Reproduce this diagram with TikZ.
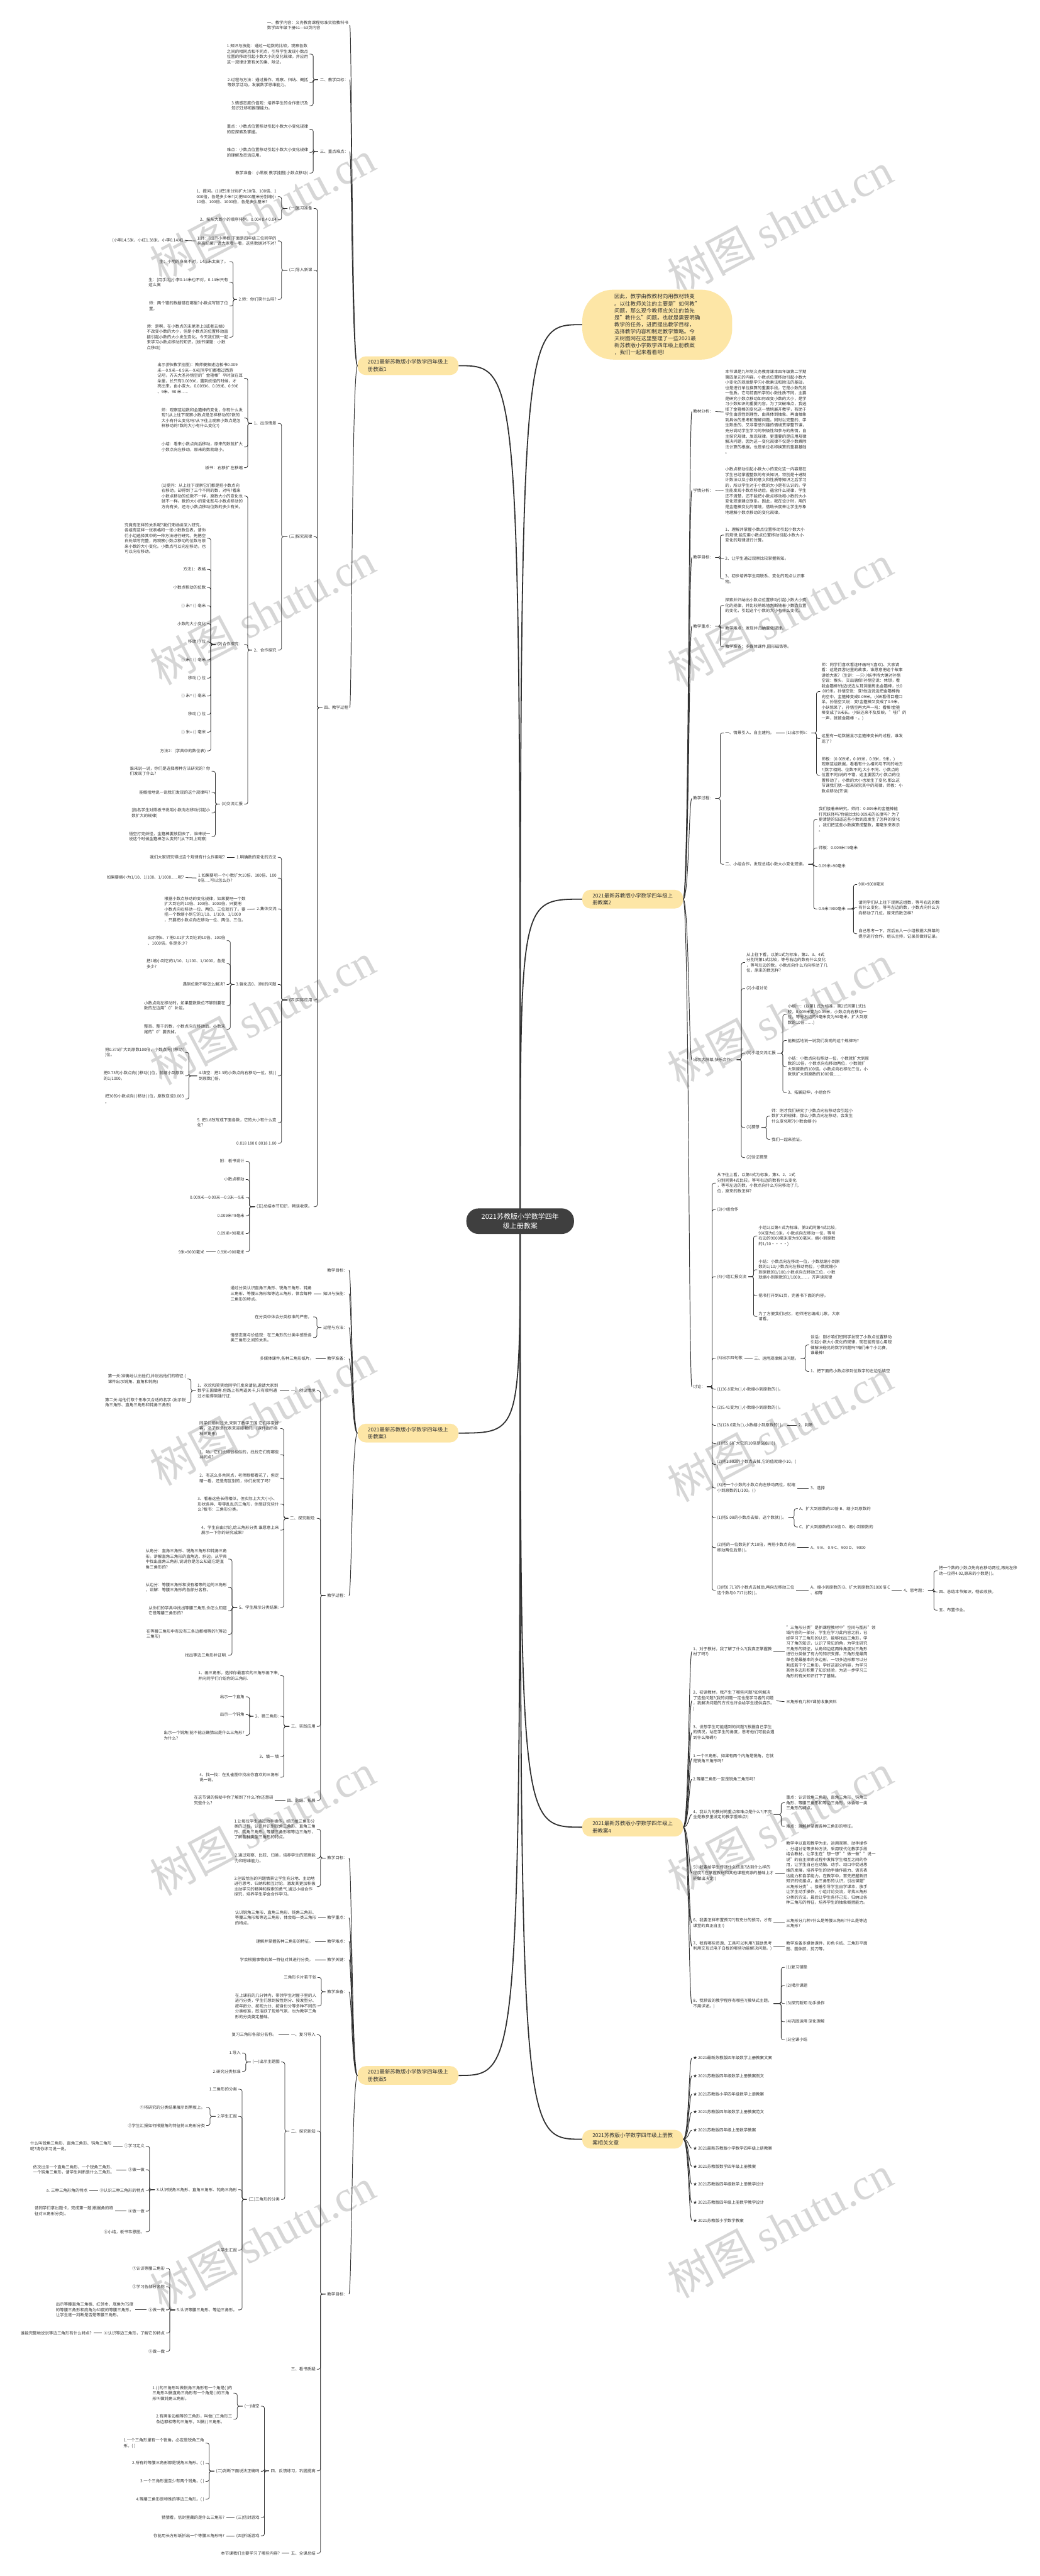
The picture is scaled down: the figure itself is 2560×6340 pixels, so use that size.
\documentclass[tikz,border=0pt]{standalone}
\usepackage{fontspec}
\setmainfont{Noto Sans CJK SC}
\newfontfamily\wmlat{Liberation Serif}
\usetikzlibrary{calc}
\definecolor{tc}{HTML}{333333}
\definecolor{lc}{HTML}{303030}
\definecolor{yel}{HTML}{FDE6A6}
\definecolor{dk}{HTML}{3F3F3F}
\pgfdeclarelayer{wmark}
\pgfdeclarelayer{bg}
\pgfsetlayers{wmark,bg,main}
\newcommand\fs{\fontsize{5pt}{6.6pt}\selectfont}
\newcommand\fy{\fontsize{6.5pt}{9pt}\selectfont}
\newcommand\fc{\fontsize{8.5pt}{11.5pt}\selectfont}
\newcommand\fin{\fontsize{6.6pt}{8.6pt}\selectfont}
\newcommand\nL[4]{\node[L] (#1) at (#2,#3) {#4};}
\newcommand\nR[4]{\node[R] (#1) at (#2,#3) {#4};}
\newcommand\LB[2]{\draw[br] ($(#1.west)+(-4,0)$) -| ($(#2.east)+(12,0)$) -- ($(#2.east)+(3,0)$);}
\newcommand\RB[2]{\draw[br] ($(#1.east)+(4,0)$) -| ($(#2.west)+(-12,0)$) -- ($(#2.west)+(-3,0)$);}
\newcommand\LBs[2]{\foreach \nn in {#2}{\LB{#1}{\nn}}}
\newcommand\RBs[2]{\foreach \nn in {#2}{\RB{#1}{\nn}}}
\newcommand\LS[2]{\draw[br] ($(#1.west)+(-4,0)$) -- ($(#2.east)+(4,0)$);}
\newcommand\RS[2]{\draw[br] ($(#1.east)+(4,0)$) -- ($(#2.west)+(-4,0)$);}
\newcommand\LC[2]{\draw[cv] (#1.west) .. controls ($(#1.west)+(-14,0)$) and ($(#1.west |- #2.east)+(-14,0)$) .. ($(#2.east)+(3,0)$);}
\newcommand\RC[2]{\draw[cv] (#1.east) .. controls ($(#1.east)+(14,0)$) and ($(#1.east |- #2.west)+(14,0)$) .. ($(#2.west)+(-3,0)$);}
\newcommand\LCs[2]{\foreach \nn in {#2}{\LC{#1}{\nn}}}
\newcommand\RCs[2]{\foreach \nn in {#2}{\RC{#1}{\nn}}}
\newcommand\CL[1]{\draw[mc] (C.center) .. controls (C.center |- #1.east) .. (#1.east);}
\newcommand\CR[1]{\draw[mc] (C.center) .. controls (C.center |- #1.west) .. (#1.west);}
\begin{document}
\begin{tikzpicture}[x=0.5pt,y=-0.5pt,
 L/.style={anchor=east, align=left, inner sep=0pt, font=\fs, text=tc},
 R/.style={anchor=west, align=left, inner sep=0pt, font=\fs, text=tc},
 br/.style={draw=lc, line width=0.6pt, rounded corners=2.5pt},
 cv/.style={draw=lc, line width=0.75pt},
 mc/.style={draw=lc, line width=1.4pt},
 Y/.style={fill=yel, rounded corners=10pt, minimum width=124pt, minimum height=23pt, align=left, font=\fy, text=tc, inner sep=0pt},
 IN/.style={fill=yel, rounded corners=38pt, minimum width=184.5pt, minimum height=86pt, align=left, font=\fin, text=tc, inner sep=0pt},
 CN/.style={fill=dk, rounded corners=15pt, minimum width=132.5pt, minimum height=31.5pt, align=center, font=\fc, text=white, inner sep=0pt},
 WM/.style={rotate=28, text=black!16, font=\fontsize{54pt}{54pt}\selectfont, inner sep=0pt}]
\begin{pgfonlayer}{wmark}
\fill[white] (0,0) rectangle (2560,6340);
\foreach \yy in {520,1510,2495,3480,4490,5510} {\node[WM] (wl\yy) at (646,\yy) {树图 {\wmlat shutu.cn}};}
\foreach \yy in {550,1515,2500,3520,4490,5480} {\node[WM] (wr\yy) at (1920,\yy) {树图 {\wmlat shutu.cn}};}
\end{pgfonlayer}
\useasboundingbox (0,0) rectangle (2560,6340);

\node[CN] (C) at (1280.5,3005.5) {2021苏教版小学数学四年\\级上册教案};

% ===== 教案1 =====
\node[Y,anchor=west] (Y1) at (880,900) {2021最新苏教版小学数学四年级上\\册教案1};
\nL{a1}{858}{62}{一、教学内容：义务教育课程标准实验教科书\\数学四年级下册61—63页内容}
\nL{a2}{858}{196}{二、教学目标：}
\nL{a3}{858}{373}{三、重点难点：}
\nL{a4}{858}{1742}{四、教学过程}
\nL{a21}{759}{133}{1.知识与技能：通过一组数的比较，观察各数\\之间的相同点和不同点，引导学生发现小数点\\位置的移动引起小数大小的变化规律，并应用\\这一规律计算有关的乘、除法。}
\nL{a22}{759}{203}{2.过程与方法：通过操作、观察、归纳、概括\\等数学活动，发展数学思维能力。}
\nL{a23}{759}{260}{3.情感态度价值观：培养学生的合作意识及\\知识迁移和推理能力。}
\nL{a31}{759}{318}{重点：小数点位置移动引起小数大小变化规律\\的应探索及掌握。}
\nL{a32}{759}{375}{难点：小数点位置移动引起小数大小变化规律\\的理解及灵活应用。}
\nL{a33}{759}{426}{教学准备：小黑板 教学挂图(小数点移动)}
\nL{b1}{769}{513}{(一)复习准备}
\nL{b2}{769}{665}{(二)导入新课}
\nL{b3}{769}{1321}{(三)探究规律}
\nL{b4}{769}{2461}{(四)实际应用}
\nL{b5}{769}{2970}{(五)总结本节知识，畅谈收获。}
\nL{b11}{681}{484}{1、提问。(1)把5米分别扩大10倍、100倍、1\\000倍，各是多少米?(2)把5000厘米分别缩小\\10倍、100倍、1000倍，各是多少厘米?}
\nL{b12}{681}{541}{2、按从大到小的顺序排列。0.004 0.4 0.04}
\nL{b21}{681}{593}{1.师：[出示小黑板]下面是四年级三位同学的\\身高纪录。请大家看一看，这些数据对不对?}
\nL{b211}{452}{592}{(小明14.5米，小红1.38米，小李0.14米)}
\nL{b22}{681}{737}{2.师：你们笑什么呀?}
\nL{b221}{562}{644}{生：小明的身高不对，14.5米太高了。}
\nL{b222}{562}{695}{生：[用手比]小李0.14米也不对，0.14米只有\\这么高}
\nL{b223}{562}{753}{师：两个错的数据错在哪里?小数点写错了位\\置。}
\nL{b224}{562}{830}{师：是啊，在小数点的末尾添上0或者去掉0\\不改变小数的大小，但是小数点的位置移动直\\接引起小数的大小发生变化。今天我们就一起\\来学习小数点移动的知识。[板书课题：小数\\点移动]}
\nL{b31}{681}{1042}{1、出示情景}
\nL{b32}{681}{1600}{2、合作探究}
\nL{b311}{598}{931}{出示(例5教学挂图)：教师便叙述边板书0.009\\米-{}-{}-0.9米—0.9米-{}-{}-9米[同学们都看过西游\\记吧，齐天大圣孙悟空的"金箍棒"平时放在耳\\朵里，长只有0.009米，遇到妖怪的时候，才\\亮出来，由小变大，0.009米、0.09米、0.9米\\、9米、90 米......}
\nL{b312}{598}{1029}{师：观察这组数和金箍棒的变化，你有什么发\\现?(从上往下观察小数点是怎样移动的?数的\\大小有什么变化吗?从下往上观察小数点是怎\\样移动的?数的大小有什么变化?)}
\nL{b313}{598}{1100}{小结：看来小数点向后移动，原来的数就扩大\\小数点向左移动，原来的数就缩小。}
\nL{b314}{598}{1151}{板书：右移扩 左移缩}
\nL{b321}{598}{1221}{(1)提问：从上往下观察它们都是把小数点向\\右移动，却得到了三个不同的数，对吗?看来\\小数点移动的位数不一样，原数大小的变化也\\就不一样。数的大小的变化既与小数点移动的\\方向有关，还与小数点移动位数的多少有关。}
\nL{b322}{598}{1586}{(2)合作探究：}
\nL{b323}{598}{1979}{(3)交流汇报}
\nL{c1}{507}{1325}{究竟有怎样的关系呢?我们来继续深入研究。\\各组有这样一张表格和一张小数数位表，请你\\们小组选择其中的一种方法进行研究。先把空\\白处填写完整，再观察小数点移动的位数与原\\来小数的大小变化。小数点可以向左移动，也\\可以向右移动。}
\nL{c2}{507}{1401}{方法1：表格}
\nL{c3}{507}{1446}{小数点移动的位数}
\nL{c4}{507}{1491}{( ) 米= ( ) 毫米}
\nL{c5}{507}{1535}{小数的大小变化}
\nL{c6}{507}{1580}{移动 ( ) 位}
\nL{c7}{507}{1624}{( ) 米= ( ) 毫米}
\nL{c8}{507}{1669}{移动 ( ) 位}
\nL{c9}{507}{1713}{( ) 米= ( ) 毫米}
\nL{c10}{507}{1758}{移动 ( ) 位}
\nL{c11}{507}{1802}{( ) 米= ( ) 毫米}
\nL{c12}{507}{1848}{方法2：(学具中的数位表)}
\nL{d1}{518}{1898}{谁来说一说，你们是选择哪种方法研究的? 你\\们发现了什么?}
\nL{d2}{518}{1950}{能概括地说一说我们发现的这个规律吗?}
\nL{d3}{518}{2001}{[指名学生对照板书说明小数向右移动引起小\\数扩大的规律]}
\nL{d4}{518}{2059}{悟空打完妖怪，金箍棒要放回去了，谁来说一\\说这个时候金箍棒怎么变的?(从下到上观察)}
\nL{b41}{681}{2110}{1.明确数的变化的方法}
\nL{b411}{554}{2110}{我们大家研究得出这个规律有什么作用呢?}
\nL{b42}{681}{2161}{1.如果要吧一个小数扩大10倍、100倍、100\\0倍.....可以怎么办?}
\nL{b421}{453}{2160}{如果要缩小为1/10、1/100、1/1000......呢?}
\nL{b43}{681}{2237}{2.集体交流}
\nL{b431}{605}{2238}{根据小数点移动的变化规律，如果要吧一个数\\扩大到它的10倍、100倍、1000倍，只要把\\小数点向右移动一位、两位、三位就行了。要\\把一个数缩小到它的1/10、1/100、1/1000\\，只要把小数点向左移动一位、两位、三位。}
\nL{b44}{681}{2423}{3.强化去0、添0的问题}
\nL{b441}{555}{2315}{出示例6、7 把0.01扩大到它的10倍、100倍\\、1000倍，各是多少?}
\nL{b442}{555}{2372}{把1缩小到它的1/10、1/100、1/1000，各是\\多少?}
\nL{b443}{555}{2423}{遇到位数不够怎么解决?}
\nL{b444}{555}{2475}{小数点向左移动时，如果整数数位不够则要在\\数的左边用"0"补足。}
\nL{b445}{555}{2533}{整百、整千的数，小数点向左移动后，小数末\\尾的"0"要去掉。}
\nL{b45}{681}{2648}{4.填空：把2.3的小数点向右移动一位，就( )\\到原数( )倍。}
\nL{b451}{453}{2590}{把0.375扩大到原数100倍，小数点向( )移动(\\)位。}
\nL{b452}{453}{2648}{把0.73的小数点向( )移动( )位，就缩小到原数\\的1/1000。}
\nL{b453}{453}{2705}{把30的小数点向( )移动( )位，原数变成0.003\\。}
\nL{b46}{681}{2763}{5. 把1.8改写成下面各数，它的大小有什么变\\化?}
\nL{b47}{681}{2814}{0.018 180 0.0018 1.80}
\nL{b51}{602}{2858}{附：板书设计}
\nL{b52}{602}{2903}{小数点移动}
\nL{b53}{602}{2947}{0.009米一0.09米一0.9米一9米}
\nL{b54}{602}{2992}{0.009米=9毫米}
\nL{b55}{602}{3036}{0.09米=90毫米}
\nL{b56}{602}{3081}{0.9米=900毫米}
\nL{b561}{503}{3081}{9米=9000毫米}

% ===== 教案3 =====
\node[Y,anchor=west] (Y3) at (880,3527) {2021最新苏教版小学数学四年级上\\册教案3};
\nL{e1}{856}{3126}{教学目标：}
\nL{e2}{856}{3184}{知识与技能：}
\nL{e3}{856}{3267}{过程与方法：}
\nL{e4}{856}{3344}{教学准备：}
\nL{e5}{856}{3927}{教学过程：}
\nL{e21}{768}{3184}{通过分类认识直角三角形、锐角三角形、钝角\\三角形、等腰三角形和等边三角形，体会每种\\三角形的特点。}
\nL{e31}{768}{3241}{在分类中体会分类标准的严密。}
\nL{e32}{768}{3292}{情感态度与价值观：在三角形的分类中感受各\\类三角形之间的关系。}
\nL{e41}{773}{3344}{多媒体课件,各种三角形纸片。}
\nL{f1}{777}{3423}{一、创设情境}
\nL{f2}{777}{3737}{二、探究新知:}
\nL{f3}{777}{4249}{三、实践应用}
\nL{f4}{777}{4431}{四、总结、拓展}
\nL{f11}{685}{3423}{1、欢欢和笑笑给同学们发来请贴,邀请大家到\\数学王国做客.但路上有两道关卡,只有顺利通\\过才能得到通行证.}
\nL{f111}{458}{3394}{第一关:准确地认出他们,并说出他们的特征.(\\课件出示锐角、直角和钝角)}
\nL{f112}{458}{3452}{第二关:给他们取个形象又合适的名字.(出示锐\\角三角形、直角三角形和钝角三角形)}
\nL{f21}{687}{3516}{同学们顺利过关,来到了数学王国.它们非常好\\客，派了很多代表来迎接我们。(课件出示各\\种三角形)}
\nL{f22}{687}{3580}{1、哟，它们长得很相似的，找找它们有哪些\\共同点?}
\nL{f23}{687}{3638}{2、有这么多共同点，老师眼都看花了，但定\\睛一看，还是有区别的，你们发现了吗?}
\nL{f24}{687}{3702}{3、看着这些长得相似，但实际上大大小小、\\形状各异、零零乱乱的三角形，你想研究些什\\么?板书：三角形分类。}
\nL{f25}{687}{3766}{4、学生自由讨论,给三角形分类.谁愿意上来\\展示一下你的研究成果?}
\nL{f26}{687}{3956}{5、学生展示分类结果:}
\nL{f261}{559}{3837}{从角分：直角三角形、锐角三角形和钝角三角\\形。讲解直角三角形的直角边、斜边。从学具\\中找出直角三角形,说说你是怎么知道它是直\\角三角形的?}
\nL{f262}{559}{3907}{从边分：等腰三角形和没有相等的边的三角形\\，讲解：等腰三角形的各部分名称。}
\nL{f263}{559}{3964}{从你们的学具中找出等腰三角形,你怎么知道\\它是等腰三角形的?}
\nL{f264}{559}{4022}{在等腰三角形中有没有三条边都相等的?(等边\\三角形)}
\nL{f265}{559}{4074}{找出等边三角形并证明.}
\nL{f31}{687}{4124}{1、画三角形。选择你最喜欢的三角形画下来,\\并向同学们介绍你的三角形.}
\nL{f32}{687}{4224}{2、猜三角形:}
\nL{f33}{687}{4323}{3、填一 填}
\nL{f34}{687}{4374}{4、找一找：在孔雀图中找出你喜欢的三角形\\说一说。}
\nL{f321}{602}{4176}{出示一个直角}
\nL{f322}{602}{4220}{出示一个钝角}
\nL{f323}{602}{4271}{出示一个锐角(能不能正确猜出是什么三角形?\\为什么?}
\nL{f41}{673}{4431}{在这节课的探秘中你了解到了什么?你还想研\\究些什么?}

% ===== 教案5 =====
\node[Y,anchor=west] (Y5) at (880,5108) {2021最新苏教版小学数学四年级上\\册教案5};
\nL{g1}{856}{4573}{教学目标：}
\nL{g2}{856}{4720}{教学重点：}
\nL{g3}{856}{4778}{教学难点：}
\nL{g4}{856}{4823}{教学关键：}
\nL{g5}{856}{4902}{教学准备：}
\nL{g6}{856}{5646}{教学目标：}
\nL{g11}{777}{4502}{1.让每位学生通过动手操作，经历给三角形分\\类的过程，认识并识别锐角三角形、直角三角\\形、钝角三角形、等腰三角形和等边三角形，\\了解各种类型三角形的特点。}
\nL{g12}{777}{4573}{2.通过观察、比较、归类，培养学生的观察能\\力和思维能力。}
\nL{g13}{777}{4643}{3.创设恰当的问题情景让学生充分地、主动地\\进行思考、归纳和相互讨论，激发其更加积极\\主动学习的精神和探索的勇气.通过小组合作\\探究，培养学生学会合作学习。}
\nL{g21}{779}{4720}{认识锐角三角形、直角三角形、钝角三角形、\\等腰三角形和等边三角形，体会每一类三角形\\的特点。}
\nL{g31}{771}{4778}{理解并掌握各种三角形的特征。}
\nL{g41}{771}{4823}{学会根据事物的某一特征对其进行分类。}
\nL{g51}{779}{4867}{三角形卡片若干张}
\nL{g52}{779}{4937}{在上课前的几分钟内，带领学生对屋子里的人\\进行分类，学生们想到按性别分、按发型分、\\按年龄分、按视力分、按身份分等多种不同的\\分类标准，既活跃了现场气氛，也为教学三角\\形的分类奠定基础。}
\nL{h1}{777}{5008}{一、复习导入}
\nL{h11}{681}{5008}{复习三角形各部分名称。}
\nL{h2}{777}{5245}{二、探究新知}
\nL{h3}{777}{5831}{三、看书质疑}
\nL{h4}{777}{6081}{四、反馈练习，巩固提高}
\nL{h5}{777}{6284}{五、全课总结}
\nL{h51}{689}{6284}{本节课我们主要学习了哪些内容?}
\nL{h21}{689}{5075}{(一)出示主题图}
\nL{h22}{689}{5413}{(二)三角形的分类}
\nL{h211}{593}{5053}{1.导入}
\nL{h212}{593}{5098}{2.研究分类标准}
\nL{h221}{584}{5142}{1.三角形的分类}
\nL{h222}{584}{5209}{2.学生汇报}
\nL{h223}{584}{5389}{3.认识锐角三角形、直角三角形、钝角三角形}
\nL{h224}{584}{5538}{4.学生汇报}
\nL{h225}{584}{5685}{5.认识等腰三角形、等边三角形。}
\nL{h2221}{505}{5187}{①将研究的分类结果展示到黑板上。}
\nL{h2222}{505}{5231}{②学生汇报如何根据角的特征将三角形分类}
\nL{h2231}{356}{5282}{①学习定义}
\nL{h2232}{356}{5340}{②做一做}
\nL{h2233}{356}{5391}{③认识三种三角形的特点}
\nL{h2234}{356}{5442}{④做一做}
\nL{h2235}{356}{5493}{⑤小结，板书韦恩图。}
\nL{i1}{275}{5282}{什么叫锐角三角形、直角三角形、钝角三角形\\呢?请你练习说一说。}
\nL{i2}{282}{5340}{依次出示一个直角三角形、一个锐角三角形、\\一个钝角三角形，请学生判断是什么三角形。}
\nL{i3}{216}{5391}{a. 三种三角形角的特点}
\nL{i4}{279}{5442}{请同学们拿出题卡，完成第一题(根据角的特\\征对三角形分类)。}
\nL{h2251}{406}{5583}{①认识等腰三角形}
\nL{h2252}{406}{5628}{②学习各部分名称}
\nL{h2253}{406}{5685}{③做一做}
\nL{h2254}{406}{5742}{④认识等边三角形，了解它的特点}
\nL{h2255}{406}{5787}{⑤做一做}
\nL{i5}{329}{5685}{出示等腰直角三角板、红领巾、底角为75度\\的等腰三角形和底角为60度的等腰三角形，\\让学生逐一判断是否是等腰三角形。}
\nL{i6}{226}{5742}{谁能完整地说说等边三角形有什么特点?}
\nL{h41}{639}{5922}{(一)填空}
\nL{h42}{639}{6082}{(二)判断下面说法正确吗}
\nL{h43}{639}{6196}{(三)信封游戏}
\nL{h44}{639}{6241}{(四)折纸游戏}
\nL{h411}{572}{5890}{1.( )的三角形叫做锐角三角形有一个角是( )的\\三角形叫做直角三角形有一个角是( )的三角\\形叫做钝角三角形。}
\nL{h412}{572}{5954}{2.有两条边相等的三角形，叫做( )三角形三\\条边都相等的三角形，叫做( )三角形。}
\nL{h421}{503}{6013}{1.一个三角形里有一个锐角，必定是锐角三角\\形。( )}
\nL{h422}{503}{6062}{2.所有的等腰三角形都是锐角三角形。( )}
\nL{h423}{503}{6107}{3.一个三角形里至少有两个锐角。( )}
\nL{h424}{503}{6151}{4.等腰三角形是特殊的等边三角形。( )}
\nL{h431}{553}{6196}{猜猜看，信封里藏的是什么三角形?}
\nL{h441}{553}{6241}{你能用长方形纸折出一个等腰三角形吗?}

% ===== intro =====
\node[IN,anchor=west] (I) at (1433,799) {因此，教学由教教材向用教材转变\\。以往教师关注的主要是"如何教"\\问题，那么现今教师应关注的首先\\是"教什么"问题。也就是需要明确\\教学的任务，进而提出教学目标，\\选择教学内容和制定教学策略。今\\天树图网在这里整理了一些2021最\\新苏教版小学数学四年级上册教案\\，我们一起来看看吧!};

% ===== 教案2 =====
\node[Y,anchor=west] (Y2) at (1433,2213) {2021最新苏教版小学数学四年级上\\册教案2};
\nR{k1}{1706}{1013}{教材分析：}
\nR{k2}{1706}{1207}{学情分析：}
\nR{k3}{1706}{1372}{教学目标：}
\nR{k4}{1706}{1541}{教学重点：}
\nR{k5}{1706}{1965}{教学过程：}
\nR{k6}{1706}{2608}{出示大屏幕,快乐合作：}
\nR{k7}{1706}{3413}{讨论：}
\nR{k11}{1785}{1014}{本节课是九年制义务教育课本四年级第二学期\\第四单元的内容。小数点位置移动引起小数大\\小变化的规律是学习小数乘法和除法的基础，\\也是进行单位换算的重要手段，它是小数的另\\一性质。它与前面所学的小数性质不同，主要\\是研究小数点移动如何改变小数的大小，是学\\习小数知识的重要内容。为了突破难点，我选\\择了金箍棒的变化这一情境展开教学，有助于\\学生由感性到理性、由具体到抽象、再由抽象\\到具体的思考和理解问题。同时以完整的、学\\生熟悉的、又非常感兴趣的情境贯穿整节课，\\充分调动学生学习的积极性和参与的热情，自\\主探究规律、发现规律，更重要的是应用规律\\解决问题，因为这一变化规律不仅是小数乘除\\法计算的根据，也是单位名称换算的重要基础\\。}
\nR{k21}{1785}{1208}{小数点移动引起小数大小的变化这一内容是在\\学生已经掌握整数的有关知识，特别是十进制\\计数法以及小数的意义和性质等知识之后学习\\的，所以学生对于小数的大小是有认识的。学\\生能发现小数点移动后，蕴含什么规律，学生\\还不清楚，还不能把小数点移动和小数的大小\\变化规律建立联系。因此，我在设计时，用的\\是金箍棒变化的情境，借助长度来让学生形象\\地理解小数点移动的变化规律。}
\nR{k31}{1785}{1317}{1、理解并掌握小数点位置移动引起小数大小\\的规律;能应用小数点位置移动引起小数大小\\变化的规律进行计算。}
\nR{k32}{1785}{1375}{2、让学生通过观察比较掌握新知。}
\nR{k33}{1785}{1425}{3、初步培养学生用联系、变化的观点认识事\\物。}
\nR{k41}{1785}{1490}{探索并归纳出小数点位置移动引起小数大小变\\化的规律，并比较熟练地判断随着小数点位置\\的变化，引起这个小数的大小有什么变化。}
\nR{k42}{1785}{1546}{教学难点：发现并归纳变化规律。}
\nR{k43}{1785}{1592}{教学准备：多媒体课件,圆形磁铁等。}
\nR{k51}{1785}{1804}{一、情景引入、自主建构。}
\nR{k511}{1935}{1804}{(1)出示例5：}
\nR{k5111}{2022}{1702}{师：同学们喜欢看连环画吗?(喜欢)、大家请\\看：这是西游记里的故事，谁愿意把这个故事\\讲给大家?（生讲：一只小妖手持大锤对孙悟\\空说：猴头，交出唐僧!孙悟空说：休想，看\\我金箍棒!他边说边从耳洞里掏出金箍棒，长0\\.009米。孙悟空说：变!他边说边把金箍棒抛\\向空中，金箍棒变成0.09米。小妖看得目瞪口\\呆。孙悟空又说：变!金箍棒又变成了0.9米，\\小妖惊呆了。孙悟空再大声一吼：看棒!金箍\\棒变成了9米长。小妖还来不及反映，"哇!"的\\一声，就被金箍棒·。)}
\nR{k5112}{2022}{1818}{这里有一组数据显示金箍棒变长的过程，谁发\\现了?}
\nR{k5113}{2022}{1908}{师板：(0.009米，0.09米，0.9米，9米，)\\观察这组数据，看看有什么相同与不同的地方\\?(数字相同、位数不同,大小不同、小数点的\\位置不同)说的不错，这主要因为小数点的位\\置移动了，小数的大小也发生了变化.那么这\\节课我们就一起来探究其中的规律，师板：小\\数点移动(齐读)}
\nR{k52}{1785}{2127}{二、小组合作，发现总结小数大小变化规律。}
\nR{k521}{2015}{2017}{我们接着来研究。师问：0.009米的金箍棒能\\打死妖怪吗?你能比划0.009米的长度吗？为了\\更清楚的知道这些小数到底发生了怎样的变化\\，我们把这些小数换算成整数，用毫米来表示\\。}
\nR{k522}{2015}{2087}{师板：0.009米=9毫米}
\nR{k523}{2015}{2132}{0.09米=90毫米}
\nR{k524}{2015}{2237}{0.9米=900毫米}
\nR{k5241}{2113}{2177}{9米=9000毫米}
\nR{k5242}{2113}{2234}{请同学们从上往下观察这组数，等号右边的数\\有什么变化，等号左边的数，小数点向什么方\\向移动了几位，原来的数怎样?}
\nR{k5243}{2113}{2298}{自己思考一下，然后五人一小组根据大屏幕的\\提示进行合作，组长主持，记录员做好记录。}
\nR{k61}{1837}{2369}{从上往下看，以第1式为标准，第2、3、4式\\分别同第1式比较，等号右边的数有什么变化\\，等号左边的数，小数点向什么方向移动了几\\位，原来的数怎样?}
\nR{k62}{1837}{2433}{(2)小组讨论}
\nR{k63}{1837}{2592}{(3)小组交流汇报}
\nR{k64}{1837}{2775}{(1)猜想}
\nR{k65}{1837}{2849}{(2)验证猜想}
\nR{k631}{1939}{2497}{小组一：(以第1 式为标准，第2式同第1式比\\较，0.009米变为0.09米，小数点向右移动一\\位，等号右边的9毫米变为90毫米，扩大到原\\数的10倍……)}
\nR{k632}{1939}{2561}{能概括地说一说我们发现的这个规律吗?}
\nR{k633}{1939}{2625}{小结：小数点向右移动一位，小数就扩大到原\\数的10倍，小数点向右移动两位，小数就扩\\大到原数的100倍，小数点向右移动三位，小\\数就扩大到原数的1000倍;......}
\nR{k634}{1939}{2689}{3、拓展延伸，小组合作}
\nR{k641}{1899}{2747}{师：刚才我们研究了小数点向右移动会引起小\\数扩大的规律，那么小数点向左移动，会发生\\什么变化呢?(小数会缩小)}
\nR{k642}{1899}{2804}{我们一起来验证。}
\nR{k71}{1765}{2912}{从下往上看，以第4式为标准，第3、2、1式\\分别同第4式比较，等号右边的数有什么变化\\，等号左边的数，小数点向什么方向移动了几\\位，原来的数怎样?}
\nR{k72}{1765}{2977}{(3)小组合作}
\nR{k73}{1765}{3142}{(4)小组汇报交流}
\nR{k74}{1765}{3343}{(5)出示四句歌}
\nR{k75}{1765}{3419}{(1)36.8变为( ),小数缩小到原数的( )。}
\nR{k76}{1765}{3464}{(2)5.41变为( ),小数缩小到原数的( )。}
\nR{k77}{1765}{3508}{(3)128.6变为( ),小数缩小到原数的( )。}
\nR{k78}{1765}{3553}{(1)把5.6扩大它的10倍是560。( )}
\nR{k79}{1765}{3604}{(2)把1.502的小数点去掉,它的值就缩小10。(\\)}
\nR{k710}{1765}{3662}{(3)把一个小数的小数点向左移动两位，就缩\\小到原数的1/100。( )}
\nR{k711}{1765}{3735}{(1)把5.08的小数点去掉，这个数就( )。}
\nR{k712}{1765}{3809}{(2)把的一位数先扩大10倍，再把小数点向右\\移动两位后是( )。}
\nR{k713}{1765}{3914}{(3)把0.717的小数点去掉后,再向左移动三位\\这个数与0.717比较( )。}
\nR{k731}{1867}{3042}{小组1(以第4 式为标准，第3式同第4式比较，\\9米变为0.9米，小数点向左移动一位，等号\\右边的9000毫米变为900毫米，缩小到原数\\的1/10····)}
\nR{k732}{1867}{3125}{小结：小数点向左移动一位，小数就缩小到原\\数的1/10;小数点向左移动两位，小数就缩小\\到原数的1/100;小数点向左移动三位，小数\\就缩小到原数的1/1000;......，齐声读规律}
\nR{k733}{1867}{3189}{把书打开到61页，完善书下面的内容。}
\nR{k734}{1867}{3240}{为了方便我们记忆，老师把它编成儿歌，大家\\请看。}
\nR{k741}{1856}{3343}{三、运用规律解决问题。}
\nR{k7411}{1995}{3310}{谈话：刚才咱们班同学发现了小数点位置移动\\引起小数大小变化的规律，现在能有信心用规\\律解决碰见的数学问题吗?咱们来个小比赛，\\谁最棒!}
\nR{k7412}{1995}{3375}{1、把下面的小数点移到位数字的左边后填空}
\nR{k771}{1965}{3508}{2、判断}
\nR{k7101}{1995}{3662}{3、选择}
\nR{k7111}{1967}{3713}{A、扩大到原数的10倍 B、缩小到原数的}
\nR{k7112}{1967}{3758}{C、扩大到原数的100倍 D、缩小到原数的}
\nR{k7121}{1995}{3809}{A、9 B、 0.9 C、900 D、 9000}
\nR{k7131}{1995}{3914}{A、缩小到原数的 B、扩大到原数的1000倍 C\\、相等}
\nR{k7132}{2224}{3914}{4、思考题：}
\nR{k71321}{2311}{3866}{把一个数的小数点先向右移动两位,再向左移\\动一位得4.02,原来的小数是( )。}
\nR{k71322}{2311}{3918}{四、总结本节知识，畅谈收获。}
\nR{k71323}{2311}{3963}{五、布置作业。}

% ===== 教案4 =====
\node[Y,anchor=west] (Y4) at (1433,4497) {2021最新苏教版小学数学四年级上\\册教案4};
\nR{m1}{1706}{4065}{1、对于教材，我了解了什么?(我真正掌握教\\材了吗?)}
\nR{m2}{1706}{4186}{2、初读教材，我产生了哪些问题?如何解决\\了这些问题?(我的问题一定也是学习者的问题\\，我解决问题的方式也许会给学生提供启示。\\)}
\nR{m3}{1706}{4264}{3、设想学生可能遇到的问题?(根据自己学生\\的情况，站在学生的角度，思考他们可能会遇\\到什么障碍?)}
\nR{m4}{1706}{4328}{1.一个三角形，如果有两个内角是锐角，它就\\是锐角三角形吗?}
\nR{m5}{1706}{4379}{2.等腰三角形一定是锐角三角形吗?}
\nR{m6}{1706}{4466}{4、我认为的教材的重点和难点是什么?(不完\\全是教参里设定的教学重难点!)}
\nR{m7}{1706}{4610}{5、我要给学生传递什么信息?达到什么样的\\程度?(在掌握教材和其他课程资源的基础上才\\能做出决定!)}
\nR{m8}{1706}{4733}{6、我要怎样布置预习?(有充分的预习，才有\\课堂的真正自主!)}
\nR{m9}{1706}{4790}{7、我有哪些资源、工具可以利用?(鼓励思考\\利用交互式电子白板的哪些功能解决问题。)}
\nR{m10}{1706}{4931}{8、我预设的教学程序有哪些?(模块式主题，\\不用详述。)}
\nR{m11}{1935}{4065}{"三角形分类"是新课程教材中"空间与图形"领\\域内容的一部分，学生在学习此内容之前，已\\经学习了三角形的认识，能够找出三角形，学\\习了角的知识，认识了常见的角，为学生研究\\三角形的特征，从角和边这两种角度对三角形\\进行分类做了有力的知识支撑。三角形是最简\\单也是最基本的多边形，一切多边形都可以分\\割成若干个三角形，学好这部分内容，为学习\\其他多边形积累了知识经验，为进一步学习三\\角形的有关知识打下了基础。}
\nR{m21}{1935}{4188}{三角形有几种?课前收集资料}
\nR{m61}{1935}{4437}{重点：认识锐角三角形、直角三角形、钝角三\\角形、等腰三角形和等边三角形，体会每一类\\三角形的特点。}
\nR{m62}{1935}{4495}{难点：理解并掌握各种三角形的特征。}
\nR{m71}{1935}{4610}{教学中以直观教学为主，运用观察、动手操作\\、分组讨论等多种方法，采用现代化教学手段\\结合教材，让学生在"想一想""做一做""说一\\说"的自主探索过程中发挥学生相互之间的作\\用，让学生自己在动脑、动手、动口中促进思\\维的发展，培养学生的动手操作能力、语言表\\达能力和自学能力。在教学中，首先把握新旧\\知识的衔接点，由三角形的认识，引出课题"\\三角形分类"。接着引导学生自学课本，放手\\让学生动手操作，小组讨论交流，寻找三角形\\分类的方法。最后让学生各抒己见，归纳出各\\种三角形的特征，培养学生的抽象概括能力。}
\nR{m81}{1935}{4733}{三角形分几种?什么是等腰三角形?什么是等边\\三角形?}
\nR{m91}{1935}{4790}{教学准备多媒体课件、彩色卡纸、三角形平面\\图、圆体胶、剪刀等。}
\nR{m101}{1935}{4842}{(1)复习铺垫}
\nR{m102}{1935}{4887}{(2)揭示课题}
\nR{m103}{1935}{4931}{(3)探究新知 动手操作}
\nR{m104}{1935}{4976}{(4)巩固运用 深化理解}
\nR{m105}{1935}{5020}{(5)全课小结}

% ===== related list =====
\node[Y,anchor=west] (Y6) at (1433,5265) {2021苏教版小学数学四年级上册教\\案相关文章};
\nR{q1}{1706}{5065}{★ 2021最新苏教版四年级数学上册教案文案}
\nR{q2}{1706}{5109}{★ 2021苏教版四年级数学上册教案例文}
\nR{q3}{1706}{5154}{★ 2021苏教版小学四年级数学上册教案}
\nR{q4}{1706}{5198}{★ 2021苏教版四年级数学上册教案范文}
\nR{q5}{1706}{5243}{★ 2021苏教版四年级上册数学教案}
\nR{q6}{1706}{5287}{★ 2021最新苏教版小学数学四年级上册教案}
\nR{q7}{1706}{5332}{★ 2021苏教版数学四年级上册教案}
\nR{q8}{1706}{5376}{★ 2021苏教版四年级数学上册教学设计}
\nR{q9}{1706}{5421}{★ 2021苏教版四年级上册数学教学设计}
\nR{q10}{1706}{5465}{★ 2021苏教版小学数学教案}

\begin{pgfonlayer}{bg}
\CL{Y1}\CL{Y3}\CL{Y5}\CR{I}\CR{Y2}\CR{Y4}\CR{Y6}
\LCs{Y1}{a1,a2,a3,a4}
\LBs{a2}{a21,a22,a23}
\LBs{a3}{a31,a32,a33}
\LBs{a4}{b1,b2,b3,b4,b5}
\LBs{b1}{b11,b12}
\LBs{b2}{b21,b22}
\LS{b21}{b211}
\LBs{b22}{b221,b222,b223,b224}
\LBs{b3}{b31,b32}
\LBs{b31}{b311,b312,b313,b314}
\LBs{b32}{b321,b322,b323}
\LBs{b322}{c1,c2,c3,c4,c5,c6,c7,c8,c9,c10,c11,c12}
\LBs{b323}{d1,d2,d3,d4}
\LBs{b4}{b41,b42,b43,b44,b45,b46,b47}
\LS{b41}{b411}\LS{b42}{b421}\LS{b43}{b431}
\LBs{b44}{b441,b442,b443,b444,b445}
\LBs{b45}{b451,b452,b453}
\LBs{b5}{b51,b52,b53,b54,b55,b56}
\LS{b56}{b561}
\LCs{Y3}{e1,e2,e3,e4,e5}
\LS{e2}{e21}
\LBs{e3}{e31,e32}
\LS{e4}{e41}
\LBs{e5}{f1,f2,f3,f4}
\LS{f1}{f11}
\LBs{f11}{f111,f112}
\LBs{f2}{f21,f22,f23,f24,f25,f26}
\LBs{f26}{f261,f262,f263,f264,f265}
\LBs{f3}{f31,f32,f33,f34}
\LBs{f32}{f321,f322,f323}
\LS{f4}{f41}
\LCs{Y5}{g1,g2,g3,g4,g5,g6}
\LBs{g1}{g11,g12,g13}
\LS{g2}{g21}\LS{g3}{g31}\LS{g4}{g41}
\LBs{g5}{g51,g52}
\LBs{g6}{h1,h2,h3,h4,h5}
\LS{h1}{h11}
\LBs{h2}{h21,h22}
\LBs{h21}{h211,h212}
\LBs{h22}{h221,h222,h223,h224,h225}
\LBs{h222}{h2221,h2222}
\LBs{h223}{h2231,h2232,h2233,h2234,h2235}
\LS{h2231}{i1}\LS{h2232}{i2}\LS{h2233}{i3}\LS{h2234}{i4}
\LBs{h225}{h2251,h2252,h2253,h2254,h2255}
\LS{h2253}{i5}\LS{h2254}{i6}
\LBs{h4}{h41,h42,h43,h44}
\LBs{h41}{h411,h412}
\LBs{h42}{h421,h422,h423,h424}
\LS{h43}{h431}\LS{h44}{h441}
\LS{h5}{h51}
\RCs{Y2}{k1,k2,k3,k4,k5,k6,k7}
\RS{k1}{k11}\RS{k2}{k21}
\RBs{k3}{k31,k32,k33}
\RBs{k4}{k41,k42,k43}
\RBs{k5}{k51,k52}
\RS{k51}{k511}
\RBs{k511}{k5111,k5112,k5113}
\RBs{k52}{k521,k522,k523,k524}
\RBs{k524}{k5241,k5242,k5243}
\RBs{k6}{k61,k62,k63,k64,k65}
\RBs{k63}{k631,k632,k633,k634}
\RBs{k64}{k641,k642}
\RBs{k7}{k71,k72,k73,k74,k75,k76,k77,k78,k79,k710,k711,k712,k713}
\RBs{k73}{k731,k732,k733,k734}
\RS{k74}{k741}
\RBs{k741}{k7411,k7412}
\RS{k77}{k771}
\RS{k710}{k7101}
\RBs{k711}{k7111,k7112}
\RS{k712}{k7121}
\RS{k713}{k7131}
\RS{k7131}{k7132}
\RBs{k7132}{k71321,k71322,k71323}
\RCs{Y4}{m1,m2,m3,m4,m5,m6,m7,m8,m9,m10}
\RS{m1}{m11}\RS{m2}{m21}
\RBs{m6}{m61,m62}
\RS{m7}{m71}\RS{m8}{m81}\RS{m9}{m91}
\RBs{m10}{m101,m102,m103,m104,m105}
\RCs{Y6}{q1,q2,q3,q4,q5,q6,q7,q8,q9,q10}
\end{pgfonlayer}
\end{tikzpicture}
\end{document}
